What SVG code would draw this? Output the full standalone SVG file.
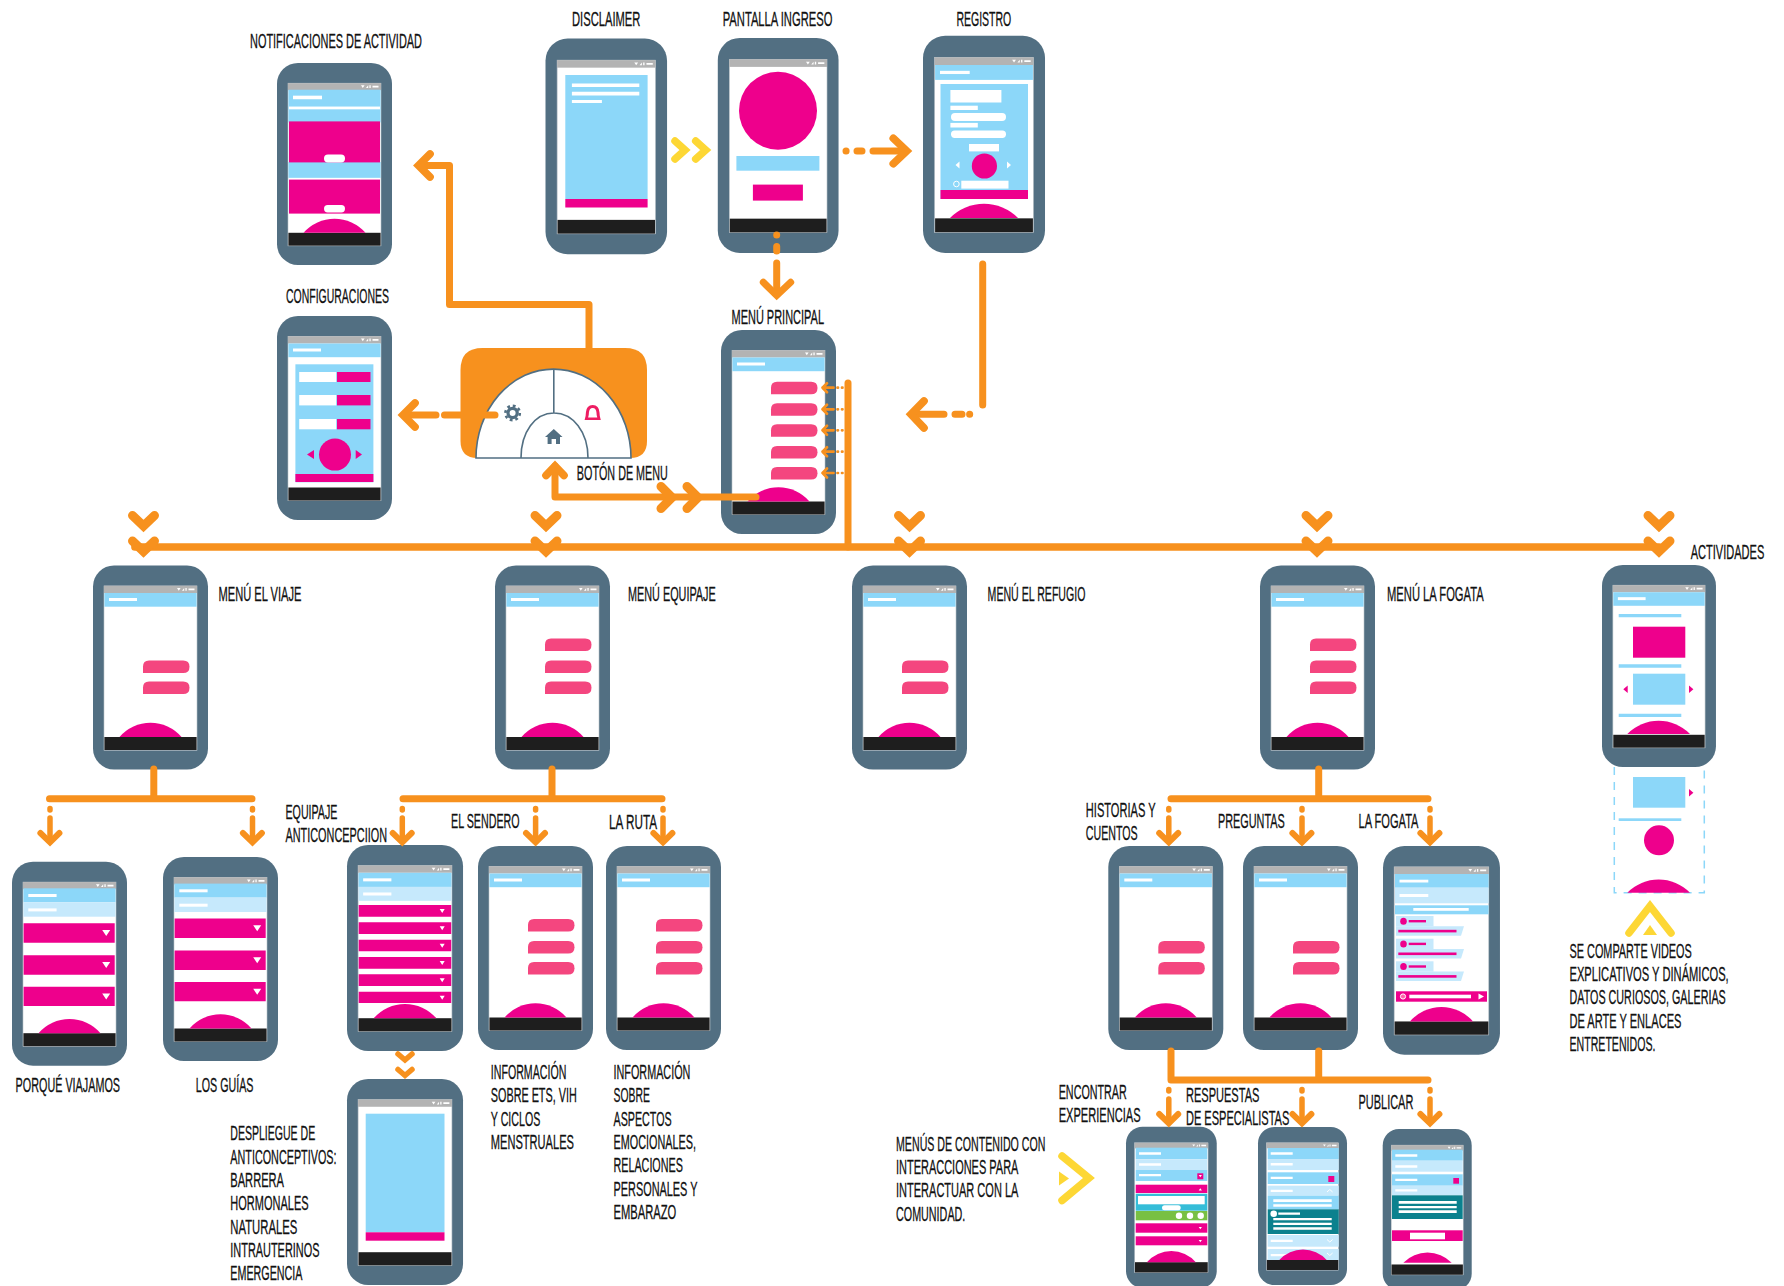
<svg xmlns="http://www.w3.org/2000/svg" width="1784" height="1286" viewBox="0 0 1784 1286">
<style>
text{font-family:"Liberation Sans",Arial,sans-serif;font-size:20px;fill:#111;stroke:#111;stroke-width:.3px;}
.c{fill:none;stroke:#f7911e;stroke-linecap:round;stroke-linejoin:round;}
.m{stroke-linejoin:miter;stroke-miterlimit:8;}
.w7{stroke-width:7;}.w8{stroke-width:7.7;}.w6{stroke-width:6;}.w9{stroke-width:9;}
.y{fill:none;stroke:#fdd735;stroke-width:7.5;stroke-linecap:round;stroke-linejoin:miter;}
.b{fill:#8cd7f9}.l{fill:#c6e9fc}.p{fill:#ee008c}.w{fill:#fff}.t{fill:#0b818e}
</style>
<defs>
<g id="frame">
<rect width="115" height="204" rx="21" fill="#526f82"/>
<rect x="11" y="20.4" width="93" height="164.3" fill="#fff" stroke="#b9c2c8" stroke-width=".6"/>
<rect x="11" y="20.4" width="93" height="7.1" fill="#b3b3b3"/>
<rect x="11.4" y="171.5" width="92.2" height="13" fill="#1e1e1e"/>
<path d="M84,22.6h3.6l-1.8,2.6zM89,25.2l2.2-2.6v2.6zM92.4,22.6h1.3v2.6h-1.3zM95.5,23h6v1.8h-6z" fill="#fff"/>
</g>
<g id="hdr"><rect class="b" x="11.4" y="27.5" width="92.2" height="13.7"/><rect class="w" x="16" y="32.5" width="28" height="3"/></g>
<path id="fab" class="p" d="M26.5,171.500A41,41 0 0 1 88.500,171.500Z"/>
<path id="pill" fill="#f4467f" d="M50,85.500V79Q50,73 56,73H90.200Q96.500,73 96.500,79.200Q96.500,85.500 90.200,85.500H50Z"/>
<g id="pills2"><use href="#pill" y="22"/><use href="#pill" y="43"/></g>
<g id="pills3"><use href="#pill"/><use href="#pills2"/></g>
<g id="acc">
<rect class="b" x="11.4" y="26.6" width="92.2" height="14"/><rect class="w" x="16.3" y="32.3" width="28.3" height="3"/>
<rect class="l" x="11.4" y="40.6" width="92.2" height="14.4"/><rect class="w" x="16.3" y="46.7" width="28.3" height="3"/>
<path class="p" d="M11.6,61.6h91.1V81H11.6zM11.6,93.6h91.1V113H11.6zM11.6,125h91.1v19.3H11.6z"/>
<path class="w" d="M90.2,68.3h8l-4,6zM90.2,100.3h8l-4,6zM90.2,131.7h8l-4,6z"/>
</g>
<g id="da"><path class="c" stroke-width="5.5" d="M0,2.500V4M0,12V34"/><path class="c m w6" d="M-9.600,27L0,36.300L9.400,27"/></g>
<path id="chev" class="c m w9" d="M-11,0L0,10.500L11,0"/>
<path id="small" class="c" stroke-width="2.7" d="M4.500,-4.500L0,0L4.500,4.500M0,0H11M15,0h.5M19.500,0h.5"/>
<g id="chat">
<rect class="l" x="1396" y="916" width="37.5" height="10.3"/>
<path class="l" d="M1396,926.3h68l-3,9.4h-65z"/>
<ellipse class="p" cx="1403.5" cy="921.3" rx="3.3" ry="3.5"/>
<rect class="p" x="1408.7" y="920" width="17.3" height="2.4"/>
<rect class="p" x="1398.3" y="929.8" width="58.2" height="2.6"/>
</g>
</defs>

<g id="node-notificaciones">
<g transform="translate(277 63) scale(1 .99)"><use href="#frame"/><rect class="b" x="11.4" y="27" width="92.2" height="33"/><rect class="w" x="16" y="33" width="29" height="3.6"/><rect class="w" x="12" y="44" width="91" height="2.8"/><rect class="b" x="11.4" y="100" width="92.2" height="16"/><use href="#fab"/></g>
<rect class="p" x="289" y="121.4" width="91" height="41"/><rect class="p" x="289" y="179.6" width="91" height="34"/>
<rect class="w" x="324" y="154.6" width="21" height="8" rx="4"/><rect class="w" x="324" y="205" width="21" height="7.5" rx="3.7"/>
</g>

<g id="node-configuraciones">
<g transform="translate(277 316)"><use href="#frame"/><use href="#hdr"/></g>
<rect class="b" x="295.4" y="364.3" width="78" height="118"/><rect class="p" x="295.4" y="474" width="78" height="8"/>
<rect class="w" x="299.2" y="372" width="37" height="10"/><rect class="p" x="337" y="372" width="33.5" height="10"/>
<rect class="w" x="299.2" y="395" width="37" height="10.4"/><rect class="p" x="337" y="395" width="33.5" height="10.4"/>
<rect class="w" x="299.2" y="419" width="37" height="10.3"/><rect class="p" x="337" y="419" width="33.5" height="10.3"/>
<circle class="p" cx="335" cy="454.6" r="16"/><path class="p" d="M314,450V459L307,454.6zM355.7,450V459L362,454.6z"/>
</g>

<g id="node-disclaimer">
<g transform="translate(545.5 38.6) scale(1.057 1.057)"><use href="#frame"/></g>
<rect class="b" x="565.3" y="75" width="82.3" height="124"/><rect class="p" x="565.3" y="199" width="82.3" height="8.5"/>
<path class="w" d="M571.9,83.6h67.4v3.4h-67.4zM571.9,91.8h67.4v3.6h-67.4zM571.9,100h30v2.9h-30z"/>
</g>

<g id="node-pantalla-ingreso">
<g transform="translate(717.8 37.9) scale(1.05 1.054)"><use href="#frame"/></g>
<circle class="p" cx="778" cy="110.7" r="39"/>
<rect class="b" x="736.4" y="156" width="83" height="14.7"/><rect class="p" x="752.9" y="184.6" width="50" height="16"/>
</g>

<g id="node-registro">
<g transform="translate(923 35.7) scale(1.061 1.065)"><use href="#frame"/><rect class="b" x="11.4" y="27.5" width="92.2" height="14"/><rect class="w" x="16" y="33" width="28" height="3"/></g>
<rect class="b" x="940.5" y="84" width="87.5" height="115"/><rect class="p" x="940.5" y="190" width="87.5" height="9"/>
<rect class="w" x="950.4" y="90" width="51" height="12.5"/><rect class="w" x="950.4" y="105.7" width="27.4" height="4.3"/>
<rect class="w" x="951" y="112.9" width="55" height="8.1" rx="4"/><rect class="w" x="950.4" y="122.9" width="27.4" height="4.6"/>
<rect class="w" x="951" y="130.4" width="55" height="7.5" rx="3.7"/><rect class="w" x="969" y="144" width="30" height="7.4"/>
<circle class="p" cx="984.4" cy="166" r="12.6"/>
<path class="w" d="M959.5,161.5v7l-4,-3.5zM1007,161.5v7l4,-3.5z"/>
<rect class="w" x="961.3" y="180.7" width="47.2" height="7.9"/><circle cx="956.4" cy="184" r="2.8" fill="none" stroke="#fff" stroke-width="1"/>
<path class="p" d="M950,217.9A48,48 0 0 1 1018,217.9Z"/>
</g>

<g id="node-menu-principal">
<g transform="translate(721 330)"><use href="#frame"/><use href="#hdr"/><use href="#fab"/><use href="#pill" y="-21.3"/><use href="#pill" y="0.3"/><use href="#pill" y="21.3"/><use href="#pill" y="43"/><use href="#pill" y="64"/></g>
</g>

<g id="node-boton-menu">
<path d="M482.500,348H625Q647,348 647,370V441Q647,458 630,458H477.500Q460.500,458 460.500,441V370Q460.500,348 482.500,348Z" fill="#f7911e"/>
<path d="M476,458A77,88.400 0 0 1 631,458Z" fill="#fff" stroke="#526f82" stroke-width="1.6"/>
<path d="M553.800,369.600V413M521,458C521,432 535,413 554,413C573,413 588,432 588,458" fill="none" stroke="#526f82" stroke-width="1.6"/>
<circle cx="512.600" cy="413" r="4.600" fill="none" stroke="#526f82" stroke-width="3.200"/>
<circle cx="512.600" cy="413" r="7.200" fill="none" stroke="#526f82" stroke-width="2.600" stroke-dasharray="2.800 2.850"/>
<path d="M553.800,429L562.500,437H560V444H556V439H551.600V444H547.600V437H545Z" fill="#526f82"/>
<path d="M592.700,405q6.300,0 6.800,7.500q0,4 1.300,7.500h-16.200q1.300,-3.500 1.300,-7.500q.5,-7.500 6.800,-7.500z" fill="#ee1d62"/>
<path d="M592.700,408q3.500,0 3.800,4.700q0,3 .8,4.800h-9.200q.8,-1.800 .8,-4.800q.3,-4.700 3.800,-4.700z" fill="#fff"/>
</g>

<g id="node-menu-viaje"><g transform="translate(93 565.5)"><use href="#frame"/><use href="#hdr"/><use href="#fab"/><use href="#pills2"/></g></g>
<g id="node-menu-equipaje"><g transform="translate(495 565.5)"><use href="#frame"/><use href="#hdr"/><use href="#fab"/><use href="#pills3"/></g></g>
<g id="node-menu-refugio"><g transform="translate(852 565.5)"><use href="#frame"/><use href="#hdr"/><use href="#fab"/><use href="#pills2"/></g></g>
<g id="node-menu-fogata"><g transform="translate(1260 565.5)"><use href="#frame"/><use href="#hdr"/><use href="#fab"/><use href="#pills3"/></g></g>

<g id="node-actividades">
<path d="M1614.3,767V892.7H1704.3V767" fill="none" stroke="#8cd7f9" stroke-width="1.5" stroke-dasharray="8 7"/>
<g transform="translate(1602 565) scale(.991 .99)"><use href="#frame"/><use href="#hdr"/></g>
<path class="b" d="M1618.7,614h62.6v3.3h-62.6zM1618.7,664.3h62.6v3.4h-62.6zM1618.7,713.7h62.6v3.3h-62.6z"/>
<rect class="p" x="1633" y="626.7" width="52.3" height="31"/><rect class="b" x="1633" y="673.7" width="52.3" height="31"/>
<path class="p" d="M1627.7,685.5v7.5l-4.4,-3.7zM1689,685.5v7.5l4.4,-3.7zM1689,789v7.5l4.4,-3.7z"/>
<path class="p" d="M1627.3,734A44,44 0 0 1 1690,734Z"/>
<rect class="b" x="1633" y="777" width="52.3" height="30.7"/><rect class="b" x="1618.7" y="818.3" width="62.6" height="2.7"/>
<circle class="p" cx="1659" cy="840.3" r="15"/><path class="p" d="M1627.3,892.7A44,44 0 0 1 1690,892.7Z"/>
</g>

<g id="node-porque-viajamos"><g transform="translate(12 861.7)"><use href="#frame"/><use href="#acc"/><use href="#fab"/></g></g>
<g id="node-los-guias"><g transform="translate(163 857)"><use href="#frame"/><use href="#acc"/><use href="#fab"/></g></g>

<g id="node-equipaje-anticoncepcion">
<g transform="translate(347 845) scale(1.009 1.01)"><use href="#frame"/><rect class="b" x="11.4" y="27.5" width="92.2" height="14"/><rect class="l" x="11.4" y="41.5" width="92.2" height="13.8"/><rect class="w" x="16" y="33" width="28" height="3"/><rect class="w" x="16" y="47" width="28" height="3"/><use href="#fab"/></g>
<path class="p" d="M358.7,905h92.5v11.7h-92.5zM358.7,922.3h92.5v11.7h-92.5zM358.7,939.7h92.5v11.6h-92.5zM358.7,957h92.5v11.7h-92.5zM358.7,974.3h92.5v11.7h-92.5zM358.7,991.7h92.5v11.3h-92.5z"/>
<path class="w" d="M439.7,909h5l-2.5,4zM439.7,926.3h5l-2.5,4zM439.7,943.7h5l-2.5,4zM439.7,961h5l-2.5,4zM439.7,978.3h5l-2.5,4zM439.7,995.7h5l-2.5,4z"/>
</g>
<g id="node-despliegue">
<g transform="translate(347 1079) scale(1.009 1.01)"><use href="#frame"/></g>
<rect class="b" x="365.7" y="1113.7" width="78.8" height="118.6"/><rect class="p" x="365.7" y="1232.3" width="78.8" height="8.4"/>
</g>
<g id="node-el-sendero"><g transform="translate(478 846)"><use href="#frame"/><use href="#hdr"/><use href="#fab"/><use href="#pills3"/></g></g>
<g id="node-la-ruta"><g transform="translate(606 846)"><use href="#frame"/><use href="#hdr"/><use href="#fab"/><use href="#pills3"/></g></g>
<g id="node-historias"><g transform="translate(1108.3 846)"><use href="#frame"/><use href="#hdr"/><use href="#fab"/><use href="#pills2"/></g></g>
<g id="node-preguntas"><g transform="translate(1243 846)"><use href="#frame"/><use href="#hdr"/><use href="#fab"/><use href="#pills2"/></g></g>

<g id="node-la-fogata">
<g transform="translate(1383 846) scale(1.017 1.023)"><use href="#frame"/><use href="#fab"/></g>
<rect class="b" x="1395" y="874" width="93.6" height="13.7"/><rect class="l" x="1395" y="887.7" width="93.6" height="15.6"/>
<rect class="w" x="1399.5" y="879.7" width="28.8" height="2.8"/><rect class="w" x="1399.5" y="894" width="28.8" height="3"/>
<rect class="b" x="1395" y="905.3" width="93.6" height="9"/><rect class="w" x="1413.3" y="908" width="55.4" height="2.8"/>
<use href="#chat"/><use href="#chat" y="22.7"/><use href="#chat" y="45.3"/>
<rect class="p" x="1396" y="991.3" width="91" height="10.4"/><rect class="w" x="1409.3" y="994.7" width="61.7" height="3.6"/>
<circle cx="1403" cy="996.5" r="2.6" fill="#f6a" stroke="#fff" stroke-width="1"/><path class="w" d="M1478.5,993.5l5.5,3l-5.5,3z"/>
</g>

<g id="node-encontrar">
<g transform="translate(1126 1126.7) scale(.789 .79)"><use href="#frame"/><use href="#fab"/></g>
<rect class="b" x="1135.7" y="1147.7" width="71.6" height="11.6"/><rect class="l" x="1135.7" y="1159.3" width="71.6" height="10.7"/><rect class="b" x="1135.7" y="1170" width="71.6" height="11"/>
<path class="w" d="M1139,1152.3h22v2.4h-22zM1139,1163.3h22v2.4h-22zM1139,1174h22v2.3h-22z"/>
<rect class="p" x="1197.3" y="1173.3" width="6" height="6"/>
<rect class="p" x="1135.7" y="1184.7" width="71.6" height="8.3"/>
<rect x="1135.7" y="1193.7" width="71.6" height="17" fill="#35bdd8"/><rect class="w" x="1138" y="1196" width="66.7" height="8.3"/><rect class="w" x="1162" y="1205.3" width="18.7" height="5" rx="2.5"/>
<rect x="1135.7" y="1211" width="71.6" height="9.3" fill="#78c043"/>
<circle class="w" cx="1179" cy="1215.7" r="3.2"/><circle class="w" cx="1190" cy="1215.7" r="3.2"/><circle class="w" cx="1200.7" cy="1215.7" r="3.2"/>
<rect class="p" x="1135.7" y="1223.3" width="71.6" height="9.4"/><rect class="p" x="1135.7" y="1236.3" width="71.6" height="9"/>
<path class="w" d="M1198.7,1175h3.2l-1.6,2.2zM1198.7,1190.5h3.2l-1.6,-2.3zM1198.7,1227h3.2l-1.6,2.3zM1198.7,1240h3.2l-1.6,2.3z"/>
</g>

<g id="node-respuestas">
<g transform="translate(1258 1127) scale(.774 .775)"><use href="#frame"/></g>
<rect class="b" x="1267.7" y="1148" width="71" height="11"/><rect class="l" x="1267.7" y="1159" width="71" height="11"/><rect class="b" x="1267.7" y="1172.3" width="71" height="11.7"/><rect class="l" x="1267.7" y="1185.7" width="71" height="10"/><rect class="b" x="1267.7" y="1195.7" width="71" height="13.6"/>
<rect class="t" x="1267.7" y="1209.3" width="71" height="24.7"/><rect class="l" x="1267.7" y="1235" width="71" height="11.7"/><rect class="l" x="1267.7" y="1249" width="71" height="11"/>
<path class="w" d="M1270.7,1152.3h22v2.4h-22zM1270.7,1163h22v2.4h-22zM1270.7,1176.7h22v2.3h-22zM1270.7,1189.7h22v2.3h-22zM1273.3,1199.3h58.4v2.7h-58.4zM1273.3,1204.3h58.4v2.4h-58.4zM1278.3,1212.5h21.7v2.3h-21.7zM1273.3,1218h58.4v2.3h-58.4zM1273.3,1222.7h58.4v2.3h-58.4zM1273.3,1227.3h58.4v2.4h-58.4zM1270.7,1239.7h22v2.3h-22zM1270.7,1254h22v2.3h-22z"/>
<circle class="w" cx="1273.7" cy="1213.7" r="3.3"/><rect class="p" x="1328.3" y="1176" width="6" height="6"/>
<path d="M1327,1192l2.8,-2.5l2.8,2.5M1327,1239.5l2.8,2.5l2.8,-2.5M1327,1253l2.8,2.5l2.8,-2.5" fill="none" stroke="#fff" stroke-width="1"/>
<path class="p" d="M1279.3,1260A32,32 0 0 1 1326.7,1260Z"/>
</g>

<g id="node-publicar">
<g transform="translate(1382.7 1129) scale(.774 .79)"><use href="#frame"/></g>
<rect class="b" x="1392" y="1149.7" width="70.7" height="11"/><rect class="l" x="1392" y="1160.7" width="70.7" height="11"/><rect class="b" x="1392" y="1174.3" width="70.7" height="11.4"/><rect class="l" x="1392" y="1185.7" width="70.7" height="9.3"/>
<rect class="t" x="1392" y="1195.3" width="70.7" height="23.7"/>
<path class="w" d="M1395.3,1154.3h22v2.4h-22zM1395.3,1165.3h22v2.4h-22zM1395.3,1178.7h22v2.3h-22zM1395.3,1189.3h22v2.3h-22zM1398.7,1201h58v2.7h-58zM1398.7,1206h58v2.3h-58zM1398.7,1210.3h58v2.7h-58z"/>
<rect class="p" x="1453.3" y="1178" width="5.7" height="5.7"/>
<rect class="p" x="1392" y="1230.3" width="70.7" height="10.7"/><rect class="w" x="1410" y="1232.7" width="35" height="6.6"/>
<path class="p" d="M1403.3,1262.7A34,34 0 0 1 1451.7,1262.7Z"/>
</g>

<g id="connectors">
<path class="c w8" d="M135,547H1659"/>
<path class="c w7" d="M848,383V547"/>
<g transform="translate(143.500 515.500)"><use href="#chev"/><use href="#chev" y="25.500"/></g>
<g transform="translate(546 515.500)"><use href="#chev"/><use href="#chev" y="25.500"/></g>
<g transform="translate(909.500 515.500)"><use href="#chev"/><use href="#chev" y="25.500"/></g>
<g transform="translate(1317 515.500)"><use href="#chev"/><use href="#chev" y="25.500"/></g>
<g transform="translate(1659 515.500)"><use href="#chev"/><use href="#chev" y="25.500"/></g>
<use href="#small" x="822.500" y="387.700"/><use href="#small" x="822.500" y="409.300"/><use href="#small" x="822.500" y="430.300"/><use href="#small" x="822.500" y="451.700"/><use href="#small" x="822.500" y="473"/>
<path class="c w7" d="M589,348V304.500H449.500V165.400H420"/><path class="c m w8" d="M430,154L418.500,165.400L430,177"/>
<path class="c w7" d="M404,415H436M444.500,415H495"/><path class="c m w8" d="M415,403L403,415L415,427"/>
<path class="c w7" d="M555,466V497H756"/><path class="c m w8" d="M546,475.500L555,466L564,475.500"/>
<path class="c m w9" d="M661,486.500L672,497.500L661,508.500M687,486.500L698,497.500L687,508.500"/>
<path class="c w7" d="M846,151H846.100M857,151H862M873,151H905"/><path class="c m w8" d="M893.300,138.300L906.700,151L893.300,163.700"/>
<path class="c w7" d="M776.700,235V235.100M776.700,246.500V251M776.700,263V294"/><path class="c m w7" d="M763.300,282.300L776.700,295.500L790.700,282.300"/>
<path class="c w7" d="M982.700,264V405M969.600,414.300H969.700M962,414.300H955M944,414.300H913"/><path class="c m w8" d="M924,401L911,414.300L924,428"/>
<path class="y" d="M675,141L685,150L675,159M695.700,141L705.700,150L695.700,159"/>
<path class="c w7" d="M153.800,769V798.700M49.500,798.700H252"/>
<use href="#da" x="50" y="806"/><use href="#da" x="252.500" y="806"/>
<path class="c w7" d="M552,769V798.700M403,798.700H662"/>
<use href="#da" x="402.300" y="806"/><use href="#da" x="535.600" y="806"/><use href="#da" x="663" y="806"/>
<path class="c m" stroke-width="5.500" d="M398,1054L405,1060L412,1054M398,1069.500L405,1075.500L412,1069.500"/>
<path class="c w7" d="M1318.700,769V798.700M1171,798.700H1428"/>
<use href="#da" x="1168.800" y="806"/><use href="#da" x="1302" y="806"/><use href="#da" x="1430" y="806"/>
<path class="c w7" d="M1171,1051V1080M1318.700,1051V1080M1171,1080H1428"/>
<use href="#da" x="1168.800" y="1087"/><use href="#da" x="1302" y="1087"/><use href="#da" x="1430" y="1087"/>
<path class="y" d="M1062,1156L1089,1178L1062,1200.500"/><path d="M1059,1171.500L1069,1178.500L1059,1185.500Z" fill="#fdd735"/>
<path class="y" d="M1629,933L1650,906L1671,933"/><path d="M1643,935L1650,925L1657,935Z" fill="#fdd735"/>
</g>

<g id="labels">
<text transform="translate(572 25.700) scale(.58 1)" textLength="117.900" lengthAdjust="spacingAndGlyphs">DISCLAIMER</text>
<text transform="translate(722.700 25.700) scale(.58 1)" textLength="189.100" lengthAdjust="spacingAndGlyphs">PANTALLA INGRESO</text>
<text transform="translate(956.400 25.700) scale(.58 1)" textLength="94.600" lengthAdjust="spacingAndGlyphs">REGISTRO</text>
<text transform="translate(250 47.500) scale(.58 1)" textLength="296.500" lengthAdjust="spacingAndGlyphs">NOTIFICACIONES DE ACTIVIDAD</text>
<text transform="translate(286 302.500) scale(.58 1)" textLength="177.600" lengthAdjust="spacingAndGlyphs">CONFIGURACIONES</text>
<text transform="translate(731.500 323.500) scale(.58 1)" textLength="159.500" lengthAdjust="spacingAndGlyphs">MENÚ PRINCIPAL</text>
<text transform="translate(576.800 480) scale(.58 1)" textLength="157" lengthAdjust="spacingAndGlyphs">BOTÓN DE MENU</text>
<text transform="translate(218.500 601.200) scale(.58 1)" textLength="143.100" lengthAdjust="spacingAndGlyphs">MENÚ EL VIAJE</text>
<text transform="translate(628 601.200) scale(.58 1)" textLength="151.200" lengthAdjust="spacingAndGlyphs">MENÚ EQUIPAJE</text>
<text transform="translate(987.600 601.200) scale(.58 1)" textLength="168.600" lengthAdjust="spacingAndGlyphs">MENÚ EL REFUGIO</text>
<text transform="translate(1387 601.200) scale(.58 1)" textLength="166.700" lengthAdjust="spacingAndGlyphs">MENÚ LA FOGATA</text>
<text transform="translate(1690.700 559.300) scale(.58 1)" textLength="126.900" lengthAdjust="spacingAndGlyphs">ACTIVIDADES</text>
<text transform="translate(285.500 819) scale(.58 1)" textLength="89.500" lengthAdjust="spacingAndGlyphs">EQUIPAJE</text>
<text transform="translate(285.500 842.300) scale(.58 1)" textLength="175" lengthAdjust="spacingAndGlyphs">ANTICONCEPCIION</text>
<text transform="translate(451 827.500) scale(.58 1)" textLength="118.300" lengthAdjust="spacingAndGlyphs">EL SENDERO</text>
<text transform="translate(609 829) scale(.58 1)" textLength="82.800" lengthAdjust="spacingAndGlyphs">LA RUTA</text>
<text transform="translate(15.600 1092) scale(.58 1)" textLength="180" lengthAdjust="spacingAndGlyphs">PORQUÉ VIAJAMOS</text>
<text transform="translate(195.800 1092) scale(.58 1)" textLength="99.300" lengthAdjust="spacingAndGlyphs">LOS GUÍAS</text>
<text transform="translate(490.800 1079) scale(.58 1)" textLength="130.200" lengthAdjust="spacingAndGlyphs">INFORMACIÓN</text>
<text transform="translate(490.800 1102.300) scale(.58 1)" textLength="148.100" lengthAdjust="spacingAndGlyphs">SOBRE ETS, VIH</text>
<text transform="translate(490.800 1125.600) scale(.58 1)" textLength="85.300" lengthAdjust="spacingAndGlyphs">Y CICLOS</text>
<text transform="translate(490.800 1149) scale(.58 1)" textLength="143.300" lengthAdjust="spacingAndGlyphs">MENSTRUALES</text>
<text transform="translate(613.500 1079) scale(.58 1)" textLength="132.600" lengthAdjust="spacingAndGlyphs">INFORMACIÓN</text>
<text transform="translate(613.500 1102.300) scale(.58 1)" textLength="62.600" lengthAdjust="spacingAndGlyphs">SOBRE</text>
<text transform="translate(613.500 1125.600) scale(.58 1)" textLength="100.200" lengthAdjust="spacingAndGlyphs">ASPECTOS</text>
<text transform="translate(613.500 1149) scale(.58 1)" textLength="142.200" lengthAdjust="spacingAndGlyphs">EMOCIONALES,</text>
<text transform="translate(613.500 1172.300) scale(.58 1)" textLength="119.600" lengthAdjust="spacingAndGlyphs">RELACIONES</text>
<text transform="translate(613.500 1195.600) scale(.58 1)" textLength="144.800" lengthAdjust="spacingAndGlyphs">PERSONALES Y</text>
<text transform="translate(613.500 1219) scale(.58 1)" textLength="108.300" lengthAdjust="spacingAndGlyphs">EMBARAZO</text>
<text transform="translate(230.300 1140.300) scale(.58 1)" textLength="146.400" lengthAdjust="spacingAndGlyphs">DESPLIEGUE DE</text>
<text transform="translate(230.300 1163.600) scale(.58 1)" textLength="183.100" lengthAdjust="spacingAndGlyphs">ANTICONCEPTIVOS:</text>
<text transform="translate(230.300 1187) scale(.58 1)" textLength="92.600" lengthAdjust="spacingAndGlyphs">BARRERA</text>
<text transform="translate(230.300 1210.300) scale(.58 1)" textLength="135" lengthAdjust="spacingAndGlyphs">HORMONALES</text>
<text transform="translate(230.300 1233.600) scale(.58 1)" textLength="115.500" lengthAdjust="spacingAndGlyphs">NATURALES</text>
<text transform="translate(230.300 1257) scale(.58 1)" textLength="153.800" lengthAdjust="spacingAndGlyphs">INTRAUTERINOS</text>
<text transform="translate(230.300 1280.300) scale(.58 1)" textLength="124.500" lengthAdjust="spacingAndGlyphs">EMERGENCIA</text>
<text transform="translate(1085.800 816.500) scale(.58 1)" textLength="120.300" lengthAdjust="spacingAndGlyphs">HISTORIAS Y</text>
<text transform="translate(1085.800 839.800) scale(.58 1)" textLength="89.500" lengthAdjust="spacingAndGlyphs">CUENTOS</text>
<text transform="translate(1217.900 827.500) scale(.58 1)" textLength="115.200" lengthAdjust="spacingAndGlyphs">PREGUNTAS</text>
<text transform="translate(1358.500 827.500) scale(.58 1)" textLength="103.400" lengthAdjust="spacingAndGlyphs">LA FOGATA</text>
<text transform="translate(1058.700 1098.500) scale(.58 1)" textLength="117.400" lengthAdjust="spacingAndGlyphs">ENCONTRAR</text>
<text transform="translate(1058.700 1121.800) scale(.58 1)" textLength="141.200" lengthAdjust="spacingAndGlyphs">EXPERIENCIAS</text>
<text transform="translate(1186 1101.500) scale(.58 1)" textLength="126.500" lengthAdjust="spacingAndGlyphs">RESPUESTAS</text>
<text transform="translate(1186 1125) scale(.58 1)" textLength="178.100" lengthAdjust="spacingAndGlyphs">DE ESPECIALISTAS</text>
<text transform="translate(1358.500 1108.800) scale(.58 1)" textLength="94.500" lengthAdjust="spacingAndGlyphs">PUBLICAR</text>
<text transform="translate(896 1150.500) scale(.58 1)" textLength="257.700" lengthAdjust="spacingAndGlyphs">MENÚS DE CONTENIDO CON</text>
<text transform="translate(896 1173.800) scale(.58 1)" textLength="211" lengthAdjust="spacingAndGlyphs">INTERACCIONES PARA</text>
<text transform="translate(896 1197.200) scale(.58 1)" textLength="211" lengthAdjust="spacingAndGlyphs">INTERACTUAR CON LA</text>
<text transform="translate(896 1220.500) scale(.58 1)" textLength="119.500" lengthAdjust="spacingAndGlyphs">COMUNIDAD.</text>
<text transform="translate(1569.500 957.500) scale(.58 1)" textLength="210.800" lengthAdjust="spacingAndGlyphs">SE COMPARTE VIDEOS</text>
<text transform="translate(1569.500 980.800) scale(.58 1)" textLength="274.500" lengthAdjust="spacingAndGlyphs">EXPLICATIVOS Y DINÁMICOS,</text>
<text transform="translate(1569.500 1004.200) scale(.58 1)" textLength="269.500" lengthAdjust="spacingAndGlyphs">DATOS CURIOSOS, GALERIAS</text>
<text transform="translate(1569.500 1027.500) scale(.58 1)" textLength="192.900" lengthAdjust="spacingAndGlyphs">DE ARTE Y ENLACES</text>
<text transform="translate(1569.500 1050.800) scale(.58 1)" textLength="148.100" lengthAdjust="spacingAndGlyphs">ENTRETENIDOS.</text>
</g>
</svg>
